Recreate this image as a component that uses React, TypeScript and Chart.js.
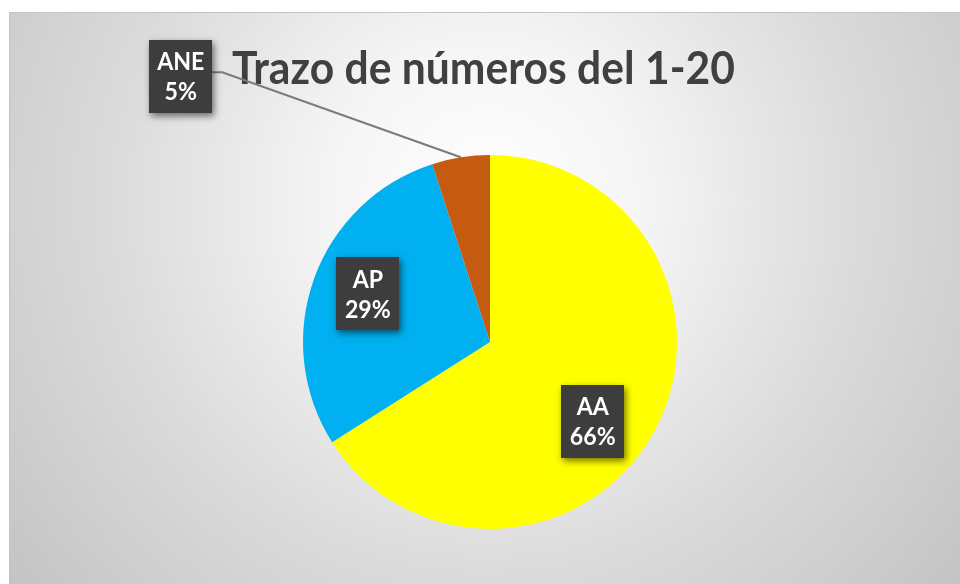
import React, { useEffect, useRef } from 'react';
import { Chart, registerables } from 'chart.js';

Chart.register(...registerables);

const categories: string[] = ['AA', 'AP', 'ANE'];
const values: number[] = [66, 29, 5];
const sliceColors: string[] = ['#FFFF00', '#00B0F0', '#C55A11'];
const titleText = 'Trazo de números del 1-20';

const FONT = 'Lato, "Open Sans", "DejaVu Sans", sans-serif';

function drawScaledText(ctx: CanvasRenderingContext2D, text: string, x: number, y: number, sx: number) {
  ctx.save();
  ctx.translate(x, y);
  ctx.scale(sx, 1);
  ctx.fillText(text, 0, 0);
  ctx.restore();
}

const decorPlugin = {
  id: 'decor',
  beforeDraw(chart: any) {
    const ctx: CanvasRenderingContext2D = chart.ctx;
    const W = chart.width;
    const H = chart.height;
    ctx.save();
    ctx.fillStyle = '#ffffff';
    ctx.fillRect(0, 0, W, H);
    const g = ctx.createRadialGradient(485, 200, 0, 485, 200, 620);
    g.addColorStop(0, '#ffffff');
    g.addColorStop(0.25, '#f5f5f5');
    g.addColorStop(0.6, '#dbdbdb');
    g.addColorStop(1, '#c3c3c3');
    ctx.fillStyle = g;
    ctx.fillRect(9, 12, W - 9, H - 12);
    ctx.strokeStyle = '#c4c4c4';
    ctx.lineWidth = 1;
    ctx.beginPath();
    ctx.moveTo(9.5, H);
    ctx.lineTo(9.5, 12.5);
    ctx.lineTo(W, 12.5);
    ctx.stroke();
    ctx.restore();
  },
  afterDraw(chart: any, _args: any, opts: any) {
    const ctx: CanvasRenderingContext2D = chart.ctx;
    ctx.save();
    // Title
    ctx.font = `bold ${opts.titleSize}px ${FONT}`;
    const tw = ctx.measureText(titleText).width;
    const sx = opts.titleWidth / tw;
    ctx.fillStyle = '#404040';
    ctx.textAlign = 'center';
    ctx.textBaseline = 'alphabetic';
    drawScaledText(ctx, titleText, opts.titleX, opts.titleY, sx);

    // Data labels
    const meta = chart.getDatasetMeta(0);
    const total = values.reduce((a, b) => a + b, 0);
    meta.data.forEach((arc: any, i: number) => {
      const p = arc.getProps(['x', 'y', 'startAngle', 'endAngle', 'outerRadius'], true);
      const mid = (p.startAngle + p.endAngle) / 2;
      const place = opts.placements[i];
      let cx: number;
      let cy: number;
      if (place.mode === 'inside') {
        cx = p.x + Math.cos(mid) * p.outerRadius * place.frac + place.dx;
        cy = p.y + Math.sin(mid) * p.outerRadius * place.frac + place.dy;
      } else {
        const ax = p.x + Math.cos(mid) * p.outerRadius * place.frac;
        const ay = p.y + Math.sin(mid) * p.outerRadius * place.frac;
        cx = ax + place.dx;
        cy = ay + place.dy;
        // leader line
        ctx.strokeStyle = '#7a7a7a';
        ctx.lineWidth = 2;
        ctx.beginPath();
        ctx.moveTo(cx + opts.boxW / 2, cy - 4);
        ctx.lineTo(cx + opts.boxW / 2 + 10, cy - 4);
        ctx.lineTo(ax, ay);
        ctx.stroke();
      }
      const bw = opts.boxW;
      const bh = opts.boxH;
      ctx.save();
      ctx.shadowColor = 'rgba(0,0,0,0.55)';
      ctx.shadowBlur = 7;
      ctx.shadowOffsetX = 2;
      ctx.shadowOffsetY = 3;
      ctx.fillStyle = '#3d3d3d';
      ctx.fillRect(Math.round(cx - bw / 2), Math.round(cy - bh / 2), bw, bh);
      ctx.restore();
      ctx.fillStyle = '#ffffff';
      ctx.font = `bold ${opts.labelSize}px ${FONT}`;
      ctx.textAlign = 'center';
      ctx.textBaseline = 'alphabetic';
      const pct = Math.round((values[i] / total) * 100) + '%';
      drawScaledText(ctx, categories[i], cx, cy - 6, sx);
      drawScaledText(ctx, pct, cx, cy + 24, sx);
    });
    ctx.restore();
  },
};

export default function App() {
  const canvasRef = useRef<HTMLCanvasElement | null>(null);
  useEffect(() => {
    const canvas = canvasRef.current;
    if (!canvas) return;
    const chart = new Chart(canvas, {
      type: 'pie',
      data: {
        labels: categories,
        datasets: [
          {
            data: values,
            backgroundColor: sliceColors,
            borderWidth: 0,
            radius: 187,
          } as any,
        ],
      },
      options: {
        responsive: false,
        animation: false,
        layout: { padding: { left: 20, right: 0, top: 100, bottom: 0 } },
        plugins: {
          legend: { display: false },
          title: { display: false },
          tooltip: { enabled: false },
          decor: {
            titleSize: 46,
            titleWidth: 503,
            titleX: 483.5,
            titleY: 84,
            labelSize: 25,
            boxW: 63,
            boxH: 73,
            placements: [
              { mode: 'inside', frac: 0.7, dx: -12, dy: 16 },
              { mode: 'inside', frac: 0.7, dx: 1, dy: -4 },
              { mode: 'outside', frac: 1.0, dx: -280, dy: -81 },
            ],
          },
        } as any,
      },
      plugins: [decorPlugin],
    });
    return () => chart.destroy();
  }, []);
  return (
    <div style={{ position: 'fixed', left: 0, top: 0, width: 960, height: 584 }}>
      <canvas ref={canvasRef} width={960} height={584} style={{ display: 'block' }} />
    </div>
  );
}
